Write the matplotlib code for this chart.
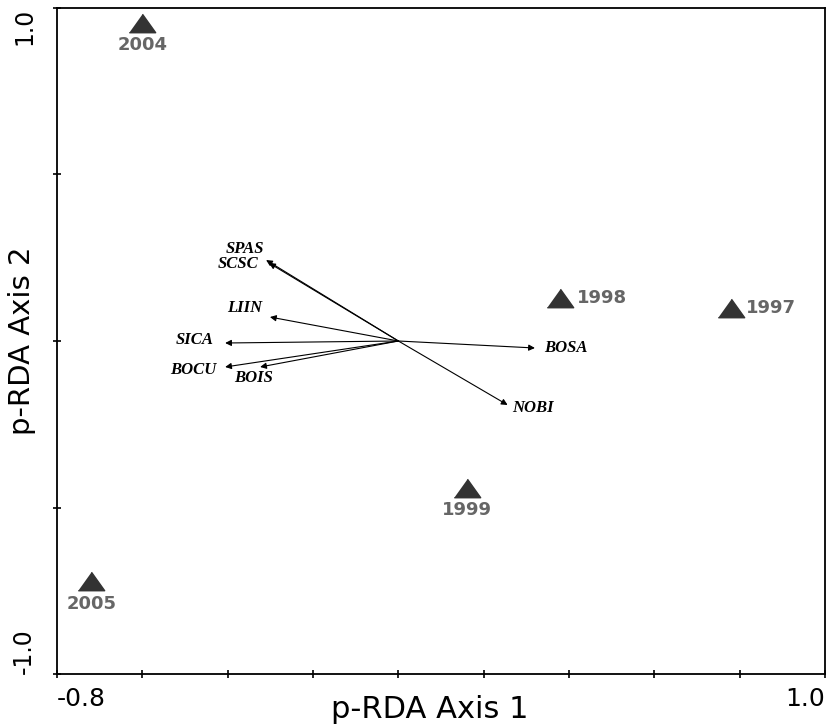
import numpy as np
import matplotlib
matplotlib.use('Agg')
import matplotlib.pyplot as plt

# Site scores (years)
years = ['2004', '2005', '1999', '1998', '1997']
year_x = [-0.60, -0.72, 0.16, 0.38, 0.78]
year_y = [0.955, -0.72, -0.44, 0.13, 0.10]

# Species arrows
species = ['SPAS', 'SCSC', 'LIIN', 'SICA', 'BOCU', 'BOIS', 'BOSA', 'NOBI']
sp_x = [-0.310, -0.303, -0.301, -0.406, -0.406, -0.324, 0.320, 0.256]
sp_y = [0.243, 0.234, 0.072, -0.006, -0.078, -0.078, -0.021, -0.192]

# label offsets from arrow tips (points)
sp_off = {
    'SPAS': (-15, 8),
    'SCSC': (-22, -1),
    'LIIN': (-18, 6.5),
    'SICA': (-22, 2),
    'BOCU': (-23, -2),
    'BOIS': (-5, -8),
    'BOSA': (22, 0),
    'NOBI': (18, -2),
}
yr_off = {
    '2004': ((0, -16), 'center'),
    '2005': ((0, -17), 'center'),
    '1999': ((0, -16.5), 'center'),
    '1998': ((11.5, 0), 'left'),
    '1997': ((11, 0), 'left'),
}

fig = plt.figure(figsize=(8.27, 7.24), dpi=100)
ax = fig.add_axes([0.069, 0.069, 0.9286, 0.920])

ax.set_xlim(-0.8, 1.0)
ax.set_ylim(-1.0, 1.0)

# arrows from the origin
for name, x, y in zip(species, sp_x, sp_y):
    ax.annotate('', xy=(x, y), xytext=(0, 0),
                arrowprops=dict(arrowstyle='-|>', color='black', lw=0.8,
                                mutation_scale=9, shrinkA=0, shrinkB=0))
    ax.annotate(name, xy=(x, y), xytext=sp_off[name], textcoords='offset points',
                ha='center', va='center', fontsize=12, fontweight='bold',
                fontstyle='italic', family='Liberation Serif')

# year triangles (a bit wider than tall)
tri = [(-1, -0.7), (1, -0.7), (0, 0.7)]
ax.plot(year_x, year_y, marker=tri, color='#333333', markersize=19, linestyle='none')
for name, x, y in zip(years, year_x, year_y):
    off, ha = yr_off[name]
    ax.annotate(name, xy=(x, y), xytext=off, textcoords='offset points',
                ha=ha, va='center', fontsize=13, fontweight='bold',
                color='#666666', family='DejaVu Sans')

# ticks: labels only at the ends
xt = np.round(np.arange(-0.8, 1.01, 0.2), 1)
yt = np.arange(-1.0, 1.01, 0.5)
ax.set_xticks(xt)
ax.set_yticks(yt)
ax.set_xticklabels(['-0.8'] + [''] * (len(xt) - 2) + ['1.0'],
                   fontsize=18, family='DejaVu Sans')
ax.set_yticklabels(['-1.0'] + [''] * (len(yt) - 2) + ['1.0'],
                   fontsize=17, family='DejaVu Sans', rotation=90)
xl = ax.get_xticklabels()
xl[0].set_ha('left')
xl[-1].set_ha('right')
yl = ax.get_yticklabels()
yl[0].set_va('bottom')
yl[-1].set_va('top')
ax.tick_params(direction='inout', length=6, width=1.2, pad=6)
ax.tick_params(axis='y', pad=12)

for s in ax.spines.values():
    s.set_linewidth(1.3)

ax.set_xlabel('p-RDA Axis 1', fontsize=22, family='DejaVu Sans')
ax.set_ylabel('p-RDA Axis 2', fontsize=21, family='DejaVu Sans')
ax.xaxis.set_label_coords(0.485, -0.032)
ax.yaxis.set_label_coords(-0.028, 0.5)

fig.savefig('out.png', dpi=100)
